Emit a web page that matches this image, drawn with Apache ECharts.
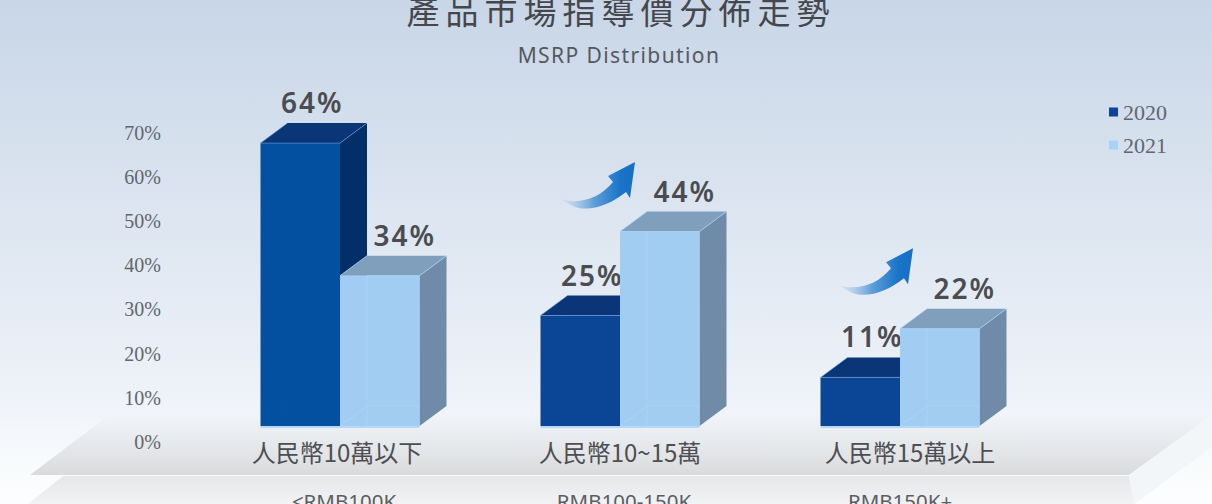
<!DOCTYPE html>
<html><head><meta charset="utf-8">
<style>
html,body{margin:0;padding:0;background:#fff;overflow:hidden}
#c{width:1212px;height:504px}
text[style*="33px"]{letter-spacing:6px}
text[style*="28px"]{letter-spacing:2px}
text[style*="21px"]{letter-spacing:1.4px}
</style>
<script src="https://cdn.jsdelivr.net/npm/echarts@6/dist/echarts.min.js"></script>
</head><body><div id="c"></div>
<script>
const chartTitle = '產品市場指導價分佈走勢';
const chartSubtitle = 'MSRP Distribution';
const categories = ['人民幣10萬以下', '人民幣10~15萬', '人民幣15萬以上'];
const categoriesEn = ['<RMB100K', 'RMB100-150K', 'RMB150K+'];
const values2020 = [64, 25, 11];
const values2021 = [34, 44, 22];
const trendCategories = [1, 2];

const BAR = 79.5 / 280, DX = 27, DY = 20;
const poly = (points, fill) => ({type: 'polygon', shape: {points}, style: {fill, stroke: null}});
const seg = (x1, y1, x2, y2, stroke, lineWidth) => ({type: 'line', shape: {x1, y1, x2, y2}, style: {stroke, lineWidth: lineWidth || 1}});

function renderBar(pal, side) {
  return function (params, api) {
    const i = api.value(0), v = api.value(1);
    const top = api.coord([i, v]), base = api.coord([i, 0]);
    const w = api.size([1, 0])[0] * BAR;
    const x0 = side < 0 ? top[0] - w : top[0], x1 = x0 + w, y0 = top[1], y1 = base[1];
    const front = pal.front[i] || pal.front[0];
    const kids = [
      poly([[x1, y0], [x1 + DX, y0 - DY], [x1 + DX, y1 - DY], [x1, y1]], pal.side),
      poly([[x0, y0], [x0 + DX, y0 - DY], [x1 + DX, y0 - DY], [x1, y0]], pal.top),
      poly([[x0, y0], [x1, y0], [x1, y1], [x0, y1]], front),
      seg(x0 + DX, y0, x0 + DX, y1, pal.inner),
      seg(x0, y1, x0 + DX, y1 - DY, pal.inner),
      seg(x0 + DX, y1 - DY, x1, y1 - DY, pal.inner),
      seg(x0 + DX, y0 - DY, x0, y0, pal.edge),
      seg(x1, y0, x1 + DX, y0 - DY, pal.edge),
      seg(x0, y0, x1, y0, pal.edge),
      seg(x0, y1 + 1, x1, y1 + 1, '#b5d8f6', 2),
      {type: 'text', style: {
        text: v + '%', x: (x0 + x1) / 2 + (side < 0 ? 12 : 25), y: y0 - 41,
        align: 'center', verticalAlign: 'middle',
        fontSize: 28, fontWeight: 600, fontFamily: '"Noto Sans"', fill: '#4a4c50'
      }}
    ];
    return {type: 'group', children: kids};
  };
}

const dark = {front: ['#02509f', '#0b4595', '#0b4595'], side: '#032f69', top: '#0a3577', inner: 'rgba(255,255,255,0.008)', edge: 'rgba(120,170,225,0.55)'};
const light = {front: ['#a2cdf3'], side: '#6f8ba8', top: '#7f9fbd', inner: 'rgba(190,225,255,0.3)', edge: 'rgba(170,210,245,0.8)'};

const arrowPath = 'M560,199C580,205 600,198 613,182L608,176L635,162L630,198L626,192C610,205 590,212 575,207Z';
const arrowFill = {type: 'linear', x: 0, y: 0, x2: 1, y2: 0, colorStops: [
  {offset: 0, color: 'rgba(190,215,240,0.3)'}, {offset: 0.45, color: '#5f9fd8'}, {offset: 0.8, color: '#1a74c8'}, {offset: 1, color: '#1470c6'}]};

function renderArrow(params, api) {
  const i = api.value(0);
  const top = api.coord([i, api.value(1)]);
  const first = api.coord([trendCategories[0], values2021[trendCategories[0]]]);
  const extra = i === trendCategories[0] ? [0, 0] : [-2, -11];
  return {type: 'path', x: top[0] - first[0] + extra[0], y: top[1] - first[1] + extra[1],
    shape: {pathData: arrowPath}, style: {fill: arrowFill}, silent: true};
}

const cnFont = {fontSize: 24, lineHeight: 26, color: '#4c4e52', fontFamily: '"Noto Sans CJK TC"'};
const enFont = {fontSize: 20.5, lineHeight: 26, color: '#5a5d62', fontFamily: '"Noto Sans"'};

const chart = echarts.init(document.getElementById('c'), null, {renderer: 'svg', width: 1212, height: 504});
chart.setOption({
  animation: false,
  backgroundColor: {type: 'linear', x: 0, y: 0, x2: 0, y2: 1, colorStops: [
    {offset: 0, color: '#c8d6e7'}, {offset: 0.5, color: '#e0e8f2'}, {offset: 0.78, color: '#eef2f9'}, {offset: 0.9, color: '#f7fafc'}, {offset: 1, color: '#fcfdfe'}]},
  title: [
    {text: chartTitle, left: 621, textAlign: 'center', top: -7, padding: 0, textStyle: {fontSize: 33, fontWeight: 400, color: '#45474c', fontFamily: '"Noto Sans CJK TC"'}},
    {text: chartSubtitle, left: 619, textAlign: 'center', top: 44, padding: 0, textStyle: {fontSize: 21, fontWeight: 400, color: '#55585e', fontFamily: '"Noto Sans"'}}
  ],
  legend: {
    orient: 'vertical', left: 1109, top: 101, itemWidth: 9, itemHeight: 9, itemGap: 11, padding: 0,
    icon: 'rect', textStyle: {fontFamily: '"Liberation Serif"', fontSize: 22, color: '#5f6670', padding: [0, 0, 0, 0]},
    data: ['2020', '2021']
  },
  grid: {left: 200, width: 840, top: 116.6, height: 309.4, outerBoundsMode: 'none'},
  xAxis: {
    type: 'category', data: categories.map((c, i) => c + '\n' + categoriesEn[i]),
    axisLine: {show: false}, axisTick: {show: false}, splitLine: {show: false},
    axisLabel: {
      margin: 12, interval: 0, hideOverlap: false,
      formatter: (v, idx) => { const p = v.split('\n'); return '{a' + idx + '|' + p[0] + '}\n{b' + idx + '|' + p[1] + '}'; },
      rich: {
        a0: {...cnFont, padding: [0, 6, 0, 0]},
        a1: {...cnFont},
        a2: {...cnFont, padding: [0, 0, 0, 20]},
        b0: {...enFont, padding: [48, 0, 0, 8]},
        b1: {...enFont, padding: [48, 0, 0, 8]},
        b2: {...enFont, padding: [48, 0, 0, 0]}
      }
    }
  },
  yAxis: {
    type: 'value', min: 0, max: 70, interval: 10,
    axisLine: {show: false}, axisTick: {show: false}, splitLine: {show: false},
    axisLabel: {margin: 39, formatter: '{value}%', verticalAlign: 'top', padding: [6, 0, 0, 0], color: '#62666d', fontSize: 20, fontFamily: '"Liberation Serif"'}
  },
  graphic: [
    {type: 'polygon', z: -2, silent: true, shape: {points: [[113, 412], [1212, 412], [1212, 415], [1129, 475], [30, 475]]},
      style: {fill: {type: 'linear', x: 0, y: 0, x2: 0, y2: 1, colorStops: [{offset: 0, color: 'rgba(214,217,220,0)'}, {offset: 1, color: '#d9dadc'}]}}},
    {type: 'polygon', z: -2, silent: true, shape: {points: [[63, 476], [1129, 476], [1134, 504], [28, 504]]},
      style: {fill: {type: 'linear', x: 0, y: 0, x2: 0, y2: 1, colorStops: [{offset: 0, color: '#e6e7e9'}, {offset: 1, color: '#f0f2f4'}]}}},
    {type: 'polygon', z: -2, silent: true, shape: {points: [[1129, 475], [1212, 415], [1212, 447], [1134, 504]]},
      style: {fill: '#f3f6f9'}}
  ],
  series: [
    {name: '2020', type: 'custom', coordinateSystem: 'cartesian2d', itemStyle: {color: '#0b4595'}, encode: {x: 0, y: 1},
      renderItem: renderBar(dark, -1), data: values2020.map((v, i) => [i, v]), z: 2},
    {name: '2021', type: 'custom', coordinateSystem: 'cartesian2d', itemStyle: {color: '#a8d3f7'}, encode: {x: 0, y: 1},
      renderItem: renderBar(light, 1), data: values2021.map((v, i) => [i, v]), z: 3},
    {name: 'trend', type: 'custom', coordinateSystem: 'cartesian2d', encode: {x: 0, y: 1},
      renderItem: renderArrow, data: trendCategories.map(i => [i, values2021[i]]), z: 4}
  ]
});
</script></body></html>
